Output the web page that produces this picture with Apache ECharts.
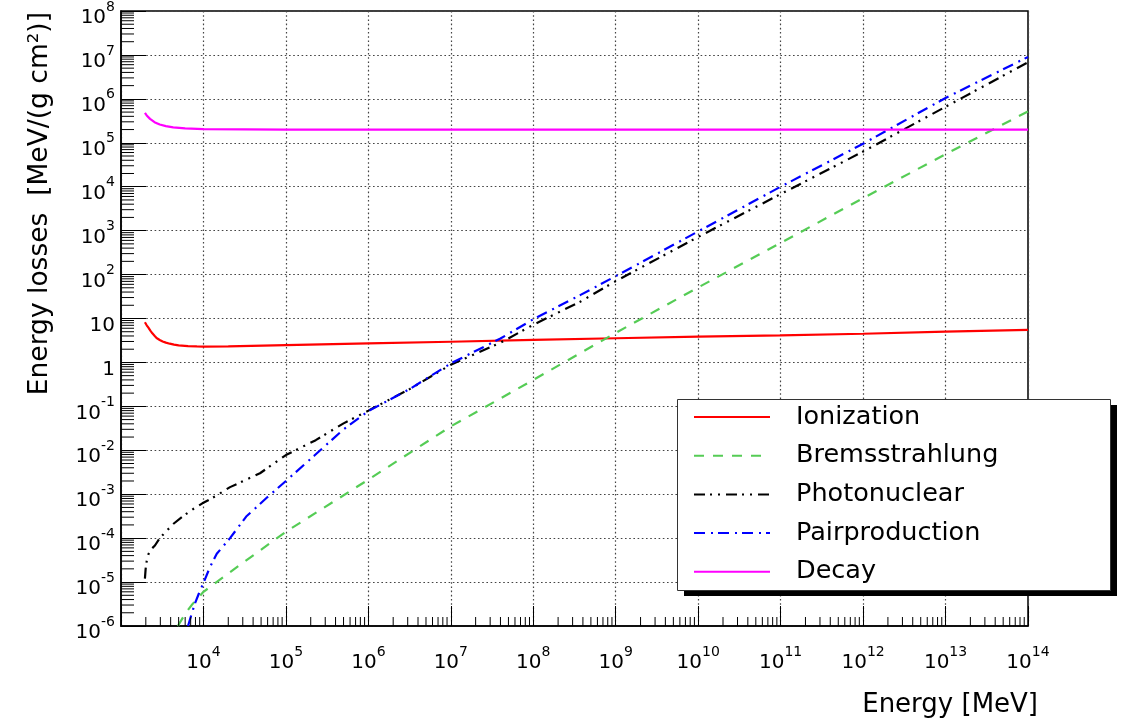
<!DOCTYPE html>
<html><head><meta charset="utf-8">
<script src="https://cdn.jsdelivr.net/npm/echarts@6/dist/echarts.min.js"></script>
<style>html,body{margin:0;padding:0;background:#fff}#c{width:1126px;height:723px}</style>
</head><body><div id="c"></div>
<script>
// ---- data ----
const seriesNames = ['Ionization', 'Bremsstrahlung', 'Photonuclear', 'Pairproduction', 'Decay'];

const ionE = [1950, 2050, 2150, 2270, 2400, 2550, 2700, 2950, 3200, 3500, 3900, 4400, 5000, 6500, 8300, 1e4, 2e4, 1e5, 1e6, 1e7, 1e8, 1e9, 1e10, 1e11, 1e12, 1e13, 1e14];
const ionV = [8.2, 7.0, 6.2, 5.3, 4.6, 4.05, 3.6, 3.25, 3.0, 2.82, 2.67, 2.55, 2.45, 2.35, 2.31, 2.3, 2.33, 2.48, 2.72, 2.96, 3.25, 3.55, 3.85, 4.15, 4.5, 5.0, 5.5];

const bremE = [4900, 6000, 7200, 1e4, 2.77e4, 1e5, 1e6, 1e7, 1e8, 1e9, 1e10, 1e11, 1e12, 1e13, 1e14];
const bremV = [1e-6, 1.9e-6, 3e-6, 6e-6, 2.45e-5, 1.4e-4, 2.15e-3, 0.035, 0.40, 4.7, 51, 525, 5.5e3, 5.5e4, 5.2e5];

const photE = [1950, 1990, 2050, 2150, 2300, 2580, 2950, 3500, 4300, 5700, 7500, 9700, 1.4e4, 2.1e4, 4.85e4, 1e5, 2.3e5, 5e5, 1e6, 3.2e6, 1e7, 4e7, 1e8, 3.7e8, 1e9, 1e10, 1e11, 1e12, 1e13, 1e14];
const photV = [1.2e-5, 2e-5, 3e-5, 4.3e-5, 5.5e-5, 6.8e-5, 1e-4, 1.4e-4, 2.1e-4, 3.2e-4, 4.6e-4, 6.2e-4, 9e-4, 1.45e-3, 3e-3, 7.8e-3, 0.017, 0.041, 0.08, 0.25, 0.89, 2.8, 7.2, 24, 71, 720, 6.8e3, 6.3e4, 6.6e5, 6.8e6];

const pairE = [6500, 7200, 7900, 8800, 1e4, 1.2e4, 1.45e4, 2.1e4, 3.3e4, 5.85e4, 1e5, 2.2e5, 5e5, 1e6, 3.2e6, 1e7, 4e7, 1e8, 3.7e8, 1e9, 1e10, 1e11, 1e12, 1e13, 1e14];
const pairV = [1e-6, 1.9e-6, 3.3e-6, 5.5e-6, 9.5e-6, 2.2e-5, 4.4e-5, 1e-4, 3.1e-4, 8.3e-4, 2e-3, 7.5e-3, 0.03, 0.078, 0.25, 0.95, 3.5, 9.6, 34, 92, 960, 1e4, 9.5e4, 1.05e6, 9e6];

const decayE = [1950, 2050, 2250, 2550, 2950, 3500, 4300, 6000, 1e4, 1e5, 1e14];
const decayV = [4.8e5, 4.2e5, 3.5e5, 2.95e5, 2.6e5, 2.4e5, 2.25e5, 2.12e5, 2.05e5, 2.0e5, 2.0e5];

const xMin = 1e3, xMax = 1e14, yMin = 1e-6, yMax = 1e8;
const xTitle = 'Energy [MeV]';
const yTitle = 'Energy losses  [MeV/(g cm²)]';

// minor tick positions (2..9 x 10^n)
const xMinor = [], yMinor = [];
for (let n = 3; n < 14; n++) for (let k = 2; k < 10; k++) xMinor.push(k * Math.pow(10, n));
for (let n = -6; n < 8; n++) for (let k = 2; k < 10; k++) yMinor.push(k * Math.pow(10, n));

const F = 'DejaVu Sans';
const zip = (a, b) => a.map((v, i) => [v, b[i]]);

function lineSeries(name, E, V, color, type) {
  return {
    name, type: 'line', data: zip(E, V), symbol: 'none', showSymbol: false,
    smooth: false, clip: true, z: 3,
    lineStyle: { color, width: 2.2, type },
    itemStyle: { color }
  };
}

const grid = { left: 121, right: 98, top: 11, bottom: 97, show: true, borderColor: '#000', borderWidth: 1.5, backgroundColor: 'transparent' };
const split = { show: true, lineStyle: { color: '#444', width: 1.2, type: [1.6, 2.6] } };
const richX = {
  b: { fontSize: 20, fontFamily: F, color: '#000', lineHeight: 28, verticalAlign: 'bottom' },
  s: { fontSize: 14, fontFamily: F, color: '#000', lineHeight: 14, verticalAlign: 'top' }
};

const option = {
  animation: false,
  backgroundColor: '#fff',
  grid,
  xAxis: {
    type: 'log', logBase: 10, min: xMin, max: xMax, interval: 1,
    axisLine: { show: true, lineStyle: { color: '#000', width: 1.5 } },
    axisTick: { show: true, inside: true, length: 20, lineStyle: { color: '#000', width: 1 } },
    splitLine: split,
    axisLabel: {
      margin: 19, interval: 0, hideOverlap: false,
      formatter: v => { const n = Math.round(Math.log10(v)); return n === 3 ? '' : '{b|10}{s|' + n + '}'; },
      rich: richX
    }
  },
  yAxis: {
    type: 'log', logBase: 10, min: yMin, max: yMax, interval: 1,
    axisLine: { show: true, lineStyle: { color: '#000', width: 1.5 } },
    axisTick: { show: true, inside: true, length: 25, lineStyle: { color: '#000', width: 1 } },
    splitLine: split,
    axisLabel: {
      margin: 6, interval: 0, hideOverlap: false, padding: [6, 0, 0, 0],
      formatter: v => {
        const n = Math.round(Math.log10(v));
        if (n === 0) return '{b|1}';
        if (n === 1) return '{b|10}';
        return '{b|10}{s|' + n + '}';
      },
      rich: richX
    }
  },
  legend: {
    data: seriesNames, orient: 'vertical', left: 677, top: 399,
    itemWidth: 76, itemHeight: 14, itemGap: 10.7,
    padding: [4, 110, 5, 16],
    selectedMode: false,
    itemStyle: { color: 'rgba(0,0,0,0)', borderWidth: 0, opacity: 0 },
    textStyle: { fontSize: 25.5, fontFamily: F, color: '#000', lineHeight: 28, padding: [0, 0, 0, 21] },
    backgroundColor: 'transparent', borderWidth: 0,
    z: 10
  },
  graphic: [
    { type: 'rect', z: 7, silent: true,
      shape: { x: 684, y: 405, width: 433, height: 191 },
      style: { fill: '#000' } },
    { type: 'rect', z: 8, silent: true,
      shape: { x: 677.5, y: 399.5, width: 433, height: 191 },
      style: { fill: '#fff', stroke: '#333', lineWidth: 1 } },
    { type: 'text', x: 1038, y: 705, z: 10,
      style: { text: xTitle, font: '26px "DejaVu Sans"', fill: '#000', align: 'right', verticalAlign: 'middle', textAlign: 'right', textVerticalAlign: 'middle' } },
    { type: 'text', x: 40, y: 12, rotation: Math.PI / 2, z: 10,
      style: { text: yTitle, font: '26.5px "DejaVu Sans"', fill: '#000', align: 'right', verticalAlign: 'middle', textAlign: 'right', textVerticalAlign: 'middle' } }
  ],
  series: [
    lineSeries(seriesNames[0], ionE, ionV, '#ff0000', 'solid'),
    lineSeries(seriesNames[1], bremE, bremV, '#55cc55', [10, 9]),
    lineSeries(seriesNames[2], photE, photV, '#000000', [11, 5, 2, 6, 2, 6]),
    lineSeries(seriesNames[3], pairE, pairV, '#0000ff', [11, 6, 2, 5]),
    lineSeries(seriesNames[4], decayE, decayV, '#ff00ff', 'solid'),
    {
      type: 'custom', silent: true, z: 4, data: xMinor.map(v => [v, yMin]),
      renderItem: (p, api) => {
        const c = api.coord([api.value(0), yMin]);
        return { type: 'line', shape: { x1: c[0], y1: c[1], x2: c[0], y2: c[1] - 9 }, style: { stroke: '#000', lineWidth: 1 } };
      }
    },
    {
      type: 'custom', silent: true, z: 4, data: yMinor.map(v => [xMin, v]),
      renderItem: (p, api) => {
        const c = api.coord([xMin, api.value(1)]);
        return { type: 'line', shape: { x1: c[0], y1: c[1], x2: c[0] + 13, y2: c[1] }, style: { stroke: '#000', lineWidth: 1 } };
      }
    }
  ]
};

const chart = echarts.init(document.getElementById('c'), null, { renderer: 'canvas' });
chart.setOption(option);
</script>
</body></html>
